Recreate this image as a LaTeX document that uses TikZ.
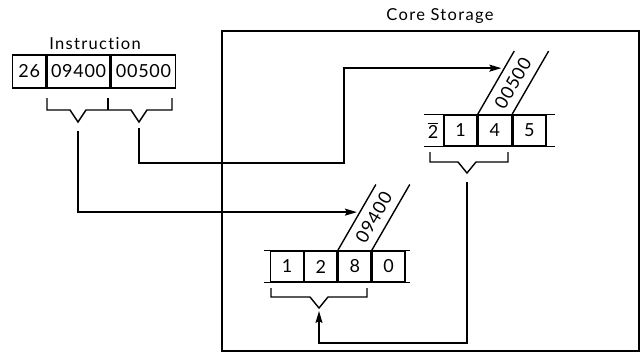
\documentclass[tikz,border=0pt]{standalone}
\usepackage{fontspec}
\setmainfont{Lato}
\newfontfamily\lblfont[LetterSpace=8, Ligatures=NoCommon]{Lato}
\newfontfamily\digfont[LetterSpace=4]{Lato}
\usetikzlibrary{positioning,calc,arrows.meta}

\tikzset{
	digits/.style={font=\digfont\fontsize{18}{22}\selectfont},
	cell/.style={draw, digits, minimum width=33pt, minimum height=31pt, inner sep=0pt},
	lbl/.style={font=\lblfont\fontsize{16.5}{18}\selectfont, inner sep=0pt}
}

\begin{document}
\begin{tikzpicture}[
		x=1pt, y=-1pt,
		line width=1.4pt,
		>={Stealth[length=12pt,width=7pt,inset=2pt]}
	]
		\useasboundingbox (0,0) rectangle (644,356);

		% core storage frame
		\node[draw, line width=2pt, minimum width=417pt, minimum height=320pt] (core) at (430.5,191) {};
		\node[lbl] (coretxt) at (440,16) {Core Storage};

		% instruction register
		\node[cell, minimum height=33pt, anchor=west] (op) at (12,71.5) {26};
		\node[cell, minimum width=63pt, minimum height=33pt, right=0pt of op] (aaddr) {09400};
		\node[cell, minimum width=64pt, minimum height=33pt, right=0pt of aaddr] (baddr) {00500};
		\node[lbl] (instr) at (95,44) {Instruction};
		\draw (47,98) -- (47,110) -- (70,110) -- (78,122) coordinate (va) -- (86,110) -- (131,110)
			-- (139,122) coordinate (vb) -- (147,110) -- (172,110) -- (172,98);
		\draw (108,98) -- (108,110);

		% storage at 00500
		\node[cell] (m1) at (460.5,130.5) {1};
		\node[cell, right=0pt of m1] (m4) {4};
		\node[cell, right=0pt of m4] (m5) {5};
		\node[digits, minimum width=19pt, minimum height=31pt, inner sep=0pt, left=0pt of m1] (m2) {$\overline{\mbox{2}}$};
		\draw (m1.north west) -- ++(-19,0);
		\draw (m1.south west) -- ++(-19,0);
		\draw (m5.north east) -- ++(8,0);
		\draw (m5.south east) -- ++(8,0);
		\draw (m4.north west) -- ++(60:73pt) coordinate (m4l);
		\draw (m4.north east) -- ++(60:73pt) coordinate (m4r);
		\node[digits, rotate=60] (bfield) at ($(m4.north)+(60:36pt)$) {00500};
		\draw (430,152) -- (430,162) -- (458,162) -- (467,173) coordinate (vm) -- (476,162) -- (508,162) -- (508,152);

		% storage at 09400
		\node[cell, minimum width=32.5pt] (n1) at (287,266.5) {1};
		\node[cell, minimum width=32.5pt, right=0pt of n1] (n2) {2};
		\node[cell, minimum width=32.5pt, right=0pt of n2] (n8) {8};
		\node[cell, minimum width=32.5pt, right=0pt of n8] (n0) {0};
		\draw (n1.north west) -- ++(-6,0);
		\draw (n1.south west) -- ++(-6,0);
		\draw (n0.north east) -- ++(4,0);
		\draw (n0.south east) -- ++(4,0);
		\draw (n8.north west) -- ++(60:76pt) coordinate (n8l);
		\draw (n8.north east) -- ++(60:76pt) coordinate (n8r);
		\node[digits, rotate=60] (afield) at ($(n8.north)+(60:38pt)$) {09400};
		\draw (271,288) -- (271,297) -- (310,297) -- (319,308) coordinate (vn) -- (328,297) -- (367,297) -- (367,288);

		% address lines
		\coordinate (ta) at ($(n8.north west)!0.58!(n8l)$);
		\coordinate (tb) at ($(m4.north west)!0.73!(m4l)$);
		\coordinate (turn) at (344,163);
		\draw[->, shorten >=3pt] ($(va)+(0,9)$) |- (ta);
		\draw[->, shorten >=3pt] ($(vb)+(0,6)$) |- (turn) |- (tb);
		\draw[->] ($(vm)+(0,9)$) |- ($(vn)+(0,35)$) -- ($(vn)+(0,3)$);
	\end{tikzpicture}
\end{document}
